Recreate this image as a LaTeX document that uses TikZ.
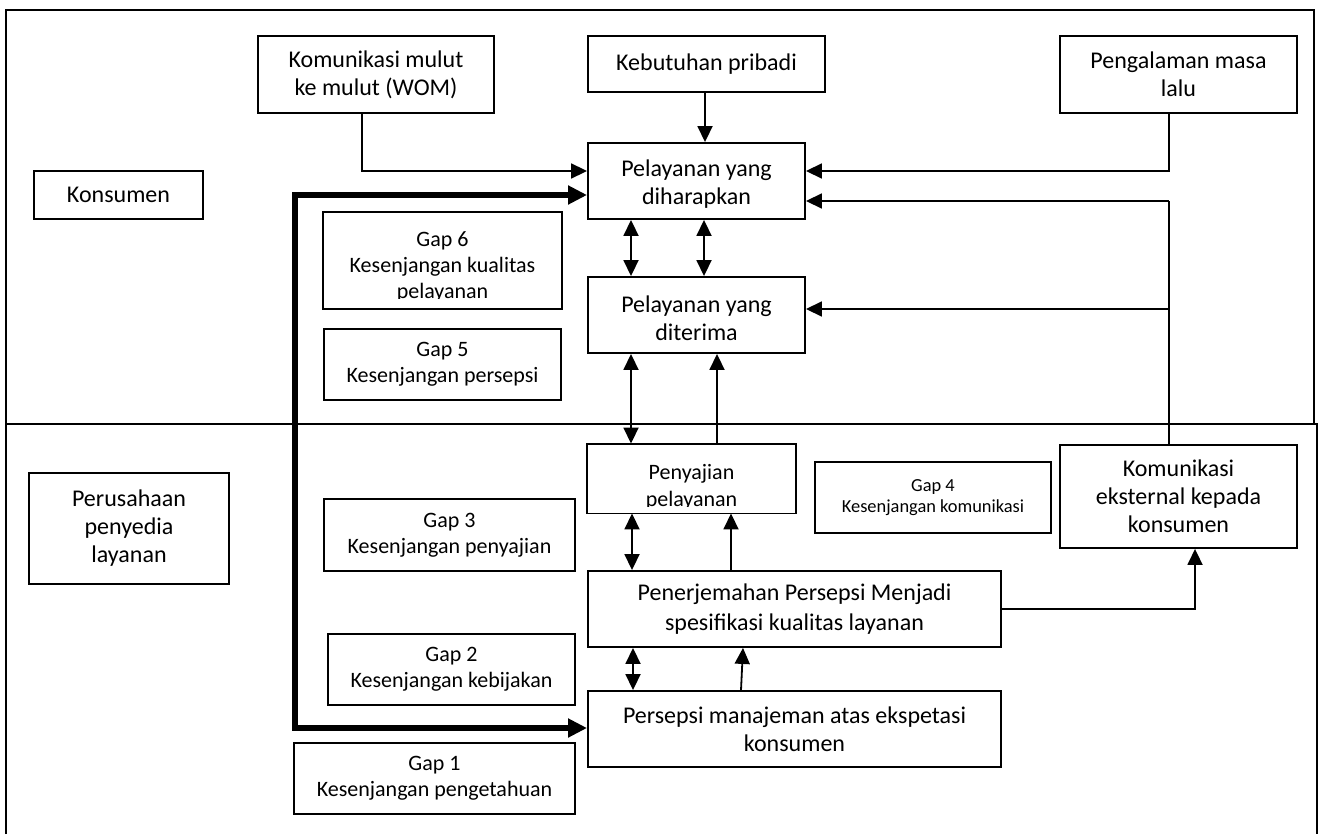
\documentclass[tikz,border=0pt]{standalone}
\usepackage{fontspec}
\setmainfont{Carlito}
\usetikzlibrary{arrows.meta}
\begin{document}
\begin{tikzpicture}[x=0.5pt,y=-0.5pt,
  sz/.style 2 args={minimum width=#1*0.5pt, minimum height=#2*0.5pt},
  boxline/.style={line width=0.95pt},
  box/.style={draw, boxline, inner sep=0pt, align=center},
  main/.style={box, font=\fontsize{12}{14}\selectfont},
  gap/.style={box, font=\fontsize{11}{13}\selectfont},
  conn/.style={line width=0.9pt},
  arr/.style={conn, -{Triangle[length=8pt,width=7.5pt]}},
  darr/.style={conn, {Triangle[length=8pt,width=7.5pt]}-{Triangle[length=8pt,width=7.5pt]}},
  fat/.style={line width=2.75pt, line join=miter, {Triangle[length=9.5pt,width=9pt]}-{Triangle[length=9.5pt,width=9pt]}},
  frame/.style={line width=1pt}
]
\useasboundingbox (0,0) rectangle (1320,834);

% two regions: consumer (top) and provider (bottom)
\draw[frame] (6,10) rectangle (1314,424);
\draw[frame] (6,834) -- (6,424) -- (1317,424) -- (1317,834);

% consumer side
\node[main, sz={236}{77}] (wom) at (376,74.5) {Komunikasi mulut\\ke mulut (WOM)};
\node[main, sz={237}{56}] (keb) at (706.5,64) {Kebutuhan pribadi};
\node[main, sz={237}{77}] (peng) at (1178.5,74.5) {Pengalaman masa\\lalu};
\node[main, sz={169}{48}] (kons) at (118.5,195) {Konsumen};
\node[main, sz={217}{76}] (harap) at (696.5,181) {\rule{0pt}{11.5pt}Pelayanan yang\\diharapkan};
\node[main, sz={217}{76}] (terima) at (696.5,315) {\rule{0pt}{11.5pt}Pelayanan yang\\diterima};

\begin{scope}
  \clip (300,200) rectangle (600,298.5);
  \node[gap, draw=none, sz={237}{95}] (gap6) at (442.5,260.5)
    {\rule{0pt}{13.8pt}Gap 6\\Kesenjangan kualitas\\pelayanan};
\end{scope}
\draw[boxline] (gap6.north west) rectangle (gap6.south east);

\node[gap, sz={237}{71}] (gap5) at (442.5,364.5) {Gap 5\\Kesenjangan persepsi};

% provider side
\node[main, sz={200}{111}] (perus) at (129,528.5) {Perusahaan\\penyedia\\layanan};

\begin{scope}
  \clip (560,430) rectangle (820,506.5);
  \node[gap, draw=none, font=\fontsize{11}{13.5}\selectfont, sz={207}{68}] (sajian) at (691.5,478.5)
    {\rule{0pt}{15.8pt}Penyajian\\pelayanan};
\end{scope}
\draw[boxline] (sajian.north west) rectangle (sajian.south east);

\node[gap, font=\fontsize{9.2}{10.5}\selectfont, sz={236}{71}] (gap4) at (933,497.5) {Gap 4\\Kesenjangan komunikasi};
\node[main, sz={237}{103}] (ekst) at (1178.5,496.5) {Komunikasi\\eksternal kepada\\konsumen};
\node[gap, sz={251}{72}] (gap3) at (449.5,535) {Gap 3\\Kesenjangan penyajian};
\node[main, font=\fontsize{12}{15}\selectfont, sz={413}{76}] (terj) at (794.5,609) {Penerjemahan Persepsi Menjadi\\spesifikasi kualitas layanan};
\node[gap, sz={247}{71}] (gap2) at (451.5,669.5) {Gap 2\\Kesenjangan kebijakan};
\node[main, sz={413}{76}] (persep) at (794.5,729) {Persepsi manajeman atas ekspetasi\\konsumen};
\node[gap, sz={281}{71}] (gap1) at (434.5,778.5) {Gap 1\\Kesenjangan pengetahuan};

% routing points
\coordinate (w1) at (362,171);
\coordinate (p1) at (1169,171);
\coordinate (e1) at (1169,201);
\coordinate (e2) at (1169,309);
\coordinate (r1) at (1195,609);
\coordinate (k1) at (705,0);
\coordinate (cA) at (631,0);
\coordinate (cB) at (704,0);
\coordinate (cC) at (717,0);
\coordinate (cD) at (632,0);
\coordinate (cE) at (731,0);
\coordinate (cF) at (633,0);
\coordinate (cG) at (741,0);
\coordinate (cH) at (743,0);
\coordinate (tA) at (295,195);
\coordinate (tB) at (295,728);

% inputs to expected service
\draw[arr] (keb.south -| k1) -- (harap.north -| k1);
\draw[arr] (wom.south -| w1) -- (w1) -- (harap.west |- w1);
\draw[arr] (peng.south -| p1) -- (p1) -- (harap.east |- p1);
\draw[conn] (ekst.north -| e1) -- (e1);
\draw[arr] (e1) -- (harap.east |- e1);
\draw[arr] (e2) -- (terima.east |- e2);

% gaps between the stages
\draw[darr] (harap.south -| cA) -- (terima.north -| cA);
\draw[darr] (harap.south -| cB) -- (terima.north -| cB);
\draw[darr] (terima.south -| cA) -- (sajian.north -| cA);
\draw[arr] (sajian.north -| cC) -- (terima.south -| cC);
\draw[darr] (sajian.south -| cD) -- (terj.north -| cD);
\draw[arr] (terj.north -| cE) -- (sajian.south -| cE);
\draw[darr] (terj.south -| cF) -- (persep.north -| cF);
\draw[arr] (persep.north -| cG) -- (terj.south -| cH);
\draw[arr] (terj.east |- r1) -- (r1) -- (ekst.south -| r1);

% knowledge gap link
\draw[fat] (harap.west |- tA) -- (tA) -- (tB) -- (persep.west |- tB);
\end{tikzpicture}
\end{document}
